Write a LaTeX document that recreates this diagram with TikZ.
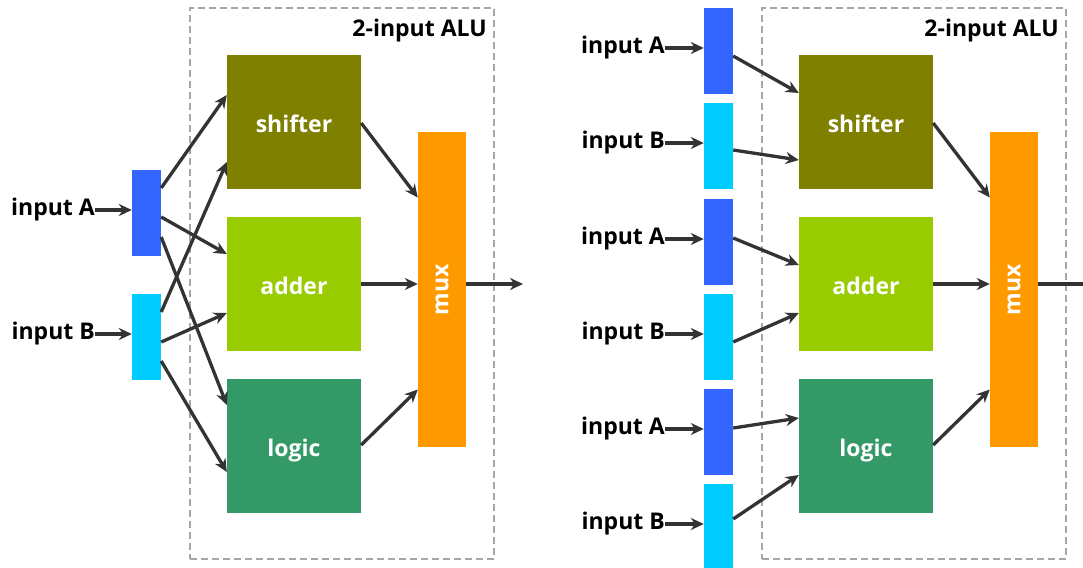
\documentclass[tikz,border=0pt]{standalone}
\usepackage{fontspec}
\setmainfont{Open Sans}
\usetikzlibrary{arrows.meta,calc,positioning}
\definecolor{inAColor}{HTML}{3366FF}
\definecolor{inBColor}{HTML}{00CCFF}
\definecolor{shiftColor}{HTML}{808000}
\definecolor{addColor}{HTML}{99CC00}
\definecolor{logicColor}{HTML}{339966}
\definecolor{muxColor}{HTML}{FF9900}
\definecolor{wireColor}{HTML}{333333}
\definecolor{aluGray}{HTML}{A6A6A6}
\tikzset{
  labfont/.style = {font=\bfseries\fontsize{23}{27}\selectfont},
  block/.style = {minimum width=134pt,minimum height=134pt,inner sep=0pt,text=white,labfont,text height=21pt,text depth=0pt},
  muxbox/.style = {fill=muxColor,minimum width=48pt,minimum height=315pt,inner sep=0pt,text=white,labfont},
  inbox/.style = {minimum width=29pt,minimum height=86pt,inner sep=0pt},
  inlabel/.style = {inner sep=0pt,anchor=east,labfont},
  alubox/.style = {draw=aluGray,dash pattern=on 7pt off 4pt,line width=1.5pt,minimum width=304pt,minimum height=551pt},
  wire/.style = {draw=wireColor,line width=3.3pt,-{Stealth[length=13pt,width=12pt]}},
}

\begin{document}
\begin{tikzpicture}[x=1pt,y=-1pt]
\useasboundingbox (0,0) rectangle (1083,567);

% the same ALU twice
\foreach \s/\dx in {L/0,R/572} {
\begin{scope}[xshift=\dx pt]
\node (alu\s) [alubox] at (342,283.5) {};
\node (title\s) [inner sep=0pt,anchor=base east,labfont] at (487,37) {2-input ALU};
\node (shift\s) [block,fill=shiftColor] at (294,122) {shifter};
\node (add\s) [block,fill=addColor] at (294,284) {adder};
\node (logic\s) [block,fill=logicColor] at (294,446) {logic};
\node (mux\s) [muxbox] at (442,289.5) {\rotatebox{90}{mux}};
%
\draw [wire] ([yshift=-1pt]shift\s.east) to ([yshift=92pt]mux\s.west);
\draw [wire] (add\s.east) to (add\s.east -| mux\s.west);
\draw [wire] ([yshift=1pt]logic\s.east) to ([yshift=-100pt]mux\s.west);
\end{scope}
}
\coordinate (outL) at (523,284);
\coordinate (outR) at (1110,284);
\draw [wire] (addL.east -| muxL.east) to (outL);
\draw [wire] (addR.east -| muxR.east) to (outR);

% inputs, left
\node (inAL) [inbox,fill=inAColor] at (146.5,213) {};
\node (inBL) [inbox,fill=inBColor] at (146.5,337) {};
\node (labAL) [inlabel] at (95,210) {input A};
\node (labBL) [inlabel] at (95,334) {input B};
\draw [wire] (labAL.east) to (labAL.east -| inAL.west);
\draw [wire] (labBL.east) to (labBL.east -| inBL.west);
\draw [wire] ([yshift=25pt]inAL.east) to ([yshift=27pt]shiftL.west);
\draw [wire] ([yshift=-4pt]inAL.east) to ([yshift=30pt]addL.west);
\draw [wire] ([yshift=-24pt]inAL.east) to ([yshift=41pt]logicL.west);
\draw [wire] ([yshift=25pt]inBL.east) to ([yshift=-40pt]shiftL.west);
\draw [wire] ([yshift=-5pt]inBL.east) to ([yshift=-29pt]addL.west);
\draw [wire] ([yshift=-24pt]inBL.east) to ([yshift=-26pt]logicL.west);

% inputs, right: one pair for each block
\foreach \i/\y in {1/51,3/242,5/432} {
  \node (in\i) [inbox,fill=inAColor] at (718.5,\y) {};
  \node (lab\i) [inlabel] at (665,\y-3) {input A};
  \draw [wire] (lab\i.east) to (lab\i.east -| in\i.west);
}
\foreach \i/\y in {2/146,4/337,6/527} {
  \node (in\i) [inbox,fill=inBColor] at (718.5,\y) {};
  \node (lab\i) [inlabel] at (665,\y-3) {input B};
  \draw [wire] (lab\i.east) to (lab\i.east -| in\i.west);
}
\draw [wire] ([yshift=-5pt]in1.east) to ([yshift=29pt]shiftR.west);
\draw [wire] ([yshift=-4pt]in2.east) to ([yshift=-38pt]shiftR.west);
\draw [wire] ([yshift=4pt]in3.east) to ([yshift=19pt]addR.west);
\draw [wire] ([yshift=-5pt]in4.east) to ([yshift=-29pt]addR.west);
\draw [wire] ([yshift=4pt]in5.east) to ([yshift=28pt]logicR.west);
\draw [wire] ([yshift=8pt]in6.east) to ([yshift=-29pt]logicR.west);
\end{tikzpicture}
\end{document}
